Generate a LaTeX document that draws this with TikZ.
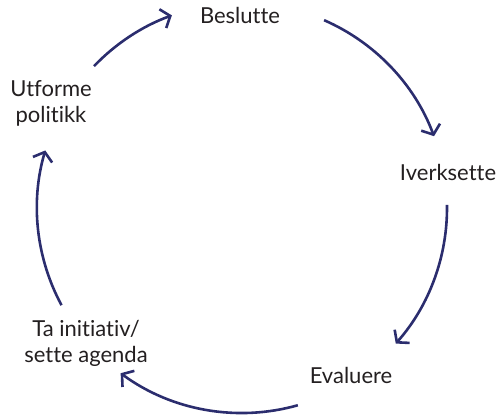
\documentclass[tikz,border=0pt]{standalone}
\usepackage{fontspec}
\setmainfont{Lato}[Ligatures=NoCommon]
\usetikzlibrary{arrows.meta,calc}
\definecolor{navy}{HTML}{2B2D6E}
\definecolor{ink}{HTML}{231F20}
\begin{document}
\begin{tikzpicture}[x=1pt,y=-1pt,
 lbl/.style={font=\fontsize{22}{25.5}\selectfont, text=ink, inner sep=0pt, align=center, anchor=base},
 cyc/.style={draw=navy, line width=2.6pt, -{Straight Barb[length=8pt,width=20pt,line width=2.6pt]}}]
\path[use as bounding box] (0,0) rectangle (500,417);
\coordinate (C) at (242,208);
\node[lbl] (bes) at (240,24) {Beslutte};
\node[lbl] (ivr) at (448,180) {Iverksette};
\node[lbl] (eva) at (351,383) {Evaluere};
\node[lbl] (tai) at (86,362) {Ta initiativ/\\sette agenda};
\node[lbl] (utf) at (51,122) {Utforme\\politikk};
\coordinate (a1) at ($(C)+(-136.2:205)$);
\coordinate (a2) at ($(C)+(-66.4:205)$);
\coordinate (a3) at ($(C)+(-0.9:205)$);
\coordinate (a4) at ($(C)+(74.2:205)$);
\coordinate (a5) at ($(C)+(151.7:205)$);
\draw[cyc] (a1) arc[start angle=-136.2, end angle=-110, radius=205];
\draw[cyc] (a2) arc[start angle=-66.4, end angle=-20.5, radius=205];
\draw[cyc] (a3) arc[start angle=-0.9, end angle=41.4, radius=205];
\draw[cyc] (a4) arc[start angle=74.2, end angle=126.3, radius=205];
\draw[cyc] (a5) arc[start angle=151.7, end angle=196.3, radius=205];
\end{tikzpicture}
\end{document}
